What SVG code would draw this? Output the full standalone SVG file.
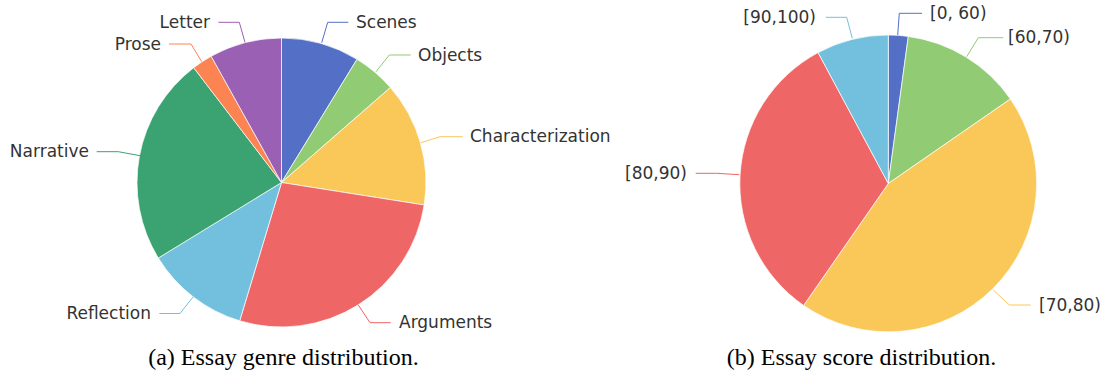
<svg xmlns="http://www.w3.org/2000/svg" width="1107" height="376" viewBox="0 0 1107 376">
<style>
.sl{stroke:#fff;stroke-width:0.7;stroke-linejoin:round}
.lb{font-family:"DejaVu Sans",sans-serif;font-size:17px;fill:#333}
.ll{fill:none;stroke-width:1}
.cap{font-family:"Liberation Serif","Times New Roman",serif;font-size:24px;fill:#000;text-anchor:middle}
</style>
<rect width="1107" height="376" fill="#fff"/>
<g id="genre-pie">
<g id="scenes"><path class="sl" fill="#5470c6" d="M281.5,182.5 L281.5,38 A144.5,144.5 0 0 1 357.0,59.3 Z"/><text class="lb" x="356" y="28">Scenes</text></g>
<g id="objects"><path class="sl" fill="#91cc75" d="M281.5,182.5 L357.0,59.3 A144.5,144.5 0 0 1 390.4,87.5 Z"/><text class="lb" x="418" y="60.5">Objects</text></g>
<g id="characterization"><path class="sl" fill="#fac858" d="M281.5,182.5 L390.4,87.5 A144.5,144.5 0 0 1 424.2,205.0 Z"/><text class="lb" x="470" y="142">Characterization</text></g>
<g id="arguments"><path class="sl" fill="#ee6666" d="M281.5,182.5 L424.2,205.0 A144.5,144.5 0 0 1 239.7,320.8 Z"/><text class="lb" x="399" y="328">Arguments</text></g>
<g id="reflection"><path class="sl" fill="#73c0de" d="M281.5,182.5 L239.7,320.8 A144.5,144.5 0 0 1 158.3,258.0 Z"/><text class="lb" x="151" y="319" text-anchor="end">Reflection</text></g>
<g id="narrative"><path class="sl" fill="#3ba272" d="M281.5,182.5 L158.3,258.0 A144.5,144.5 0 0 1 193.7,67.7 Z"/><text class="lb" x="89" y="157" text-anchor="end">Narrative</text></g>
<g id="prose"><path class="sl" fill="#fc8452" d="M281.5,182.5 L193.7,67.7 A144.5,144.5 0 0 1 211.2,56.2 Z"/><text class="lb" x="161" y="49.5" text-anchor="end">Prose</text></g>
<g id="letter"><path class="sl" fill="#9a60b4" d="M281.5,182.5 L211.2,56.2 A144.5,144.5 0 0 1 281.5,38 Z"/><text class="lb" x="210" y="28" text-anchor="end">Letter</text></g>
</g>
<g id="score-pie">
<g id="s0-60"><path class="sl" fill="#5470c6" d="M888.3,183.5 L888.3,35 A148.5,148.5 0 0 1 908.3,36.4 Z"/><text class="lb" x="930" y="19">[0, 60)</text></g>
<g id="s60-70"><path class="sl" fill="#91cc75" d="M888.3,183.5 L908.3,36.4 A148.5,148.5 0 0 1 1010.4,99.0 Z"/><text class="lb" x="1008" y="43.2">[60,70)</text></g>
<g id="s70-80"><path class="sl" fill="#fac858" d="M888.3,183.5 L1010.4,99.0 A148.5,148.5 0 0 1 803.6,305.4 Z"/><text class="lb" x="1039" y="310.5">[70,80)</text></g>
<g id="s80-90"><path class="sl" fill="#ee6666" d="M888.3,183.5 L803.6,305.4 A148.5,148.5 0 0 1 818.1,52.6 Z"/><text class="lb" x="687" y="179" text-anchor="end">[80,90)</text></g>
<g id="s90-100"><path class="sl" fill="#73c0de" d="M888.3,183.5 L818.1,52.6 A148.5,148.5 0 0 1 888.3,35 Z"/><text class="lb" x="816" y="23" text-anchor="end">[90,100)</text></g>
</g>
<g id="connectors">
<polyline class="ll" stroke="#5470c6" points="321.7,42.7 327.7,22.3 348.3,22.3"/>
<polyline class="ll" stroke="#91cc75" points="376,71.7 389.3,55 410.7,55"/>
<polyline class="ll" stroke="#fac858" points="421,142.7 440,136.7 462.7,136.7"/>
<polyline class="ll" stroke="#ee6666" points="358.3,305 370,322.7 390.7,322.7"/>
<polyline class="ll" stroke="#73c0de" points="193,297 180,313.5 159.3,313.5"/>
<polyline class="ll" stroke="#3ba272" points="140,155.7 118.3,151.7 96.7,151.7"/>
<polyline class="ll" stroke="#fc8452" points="201.7,61.7 191,44 169,44"/>
<polyline class="ll" stroke="#9a60b4" points="245,42.3 239.3,22.3 218.3,22.3"/>
<polyline class="ll" stroke="#5470c6" points="897.7,35 899.3,13.3 922,13.3"/>
<polyline class="ll" stroke="#91cc75" points="966.7,56.7 978.3,37.7 1003.3,37.7"/>
<polyline class="ll" stroke="#fac858" points="993.3,290 1009.3,305 1030.7,305"/>
<polyline class="ll" stroke="#ee6666" points="739.3,174.7 716.7,173.3 695.7,173.3"/>
<polyline class="ll" stroke="#73c0de" points="852.3,38.3 846.7,17.3 825.7,17.3"/>
</g>
<g id="captions">
<text class="cap" x="283.5" y="365">(a) Essay genre distribution.</text>
<text class="cap" x="861.5" y="365">(b) Essay score distribution.</text>
</g>
</svg>
